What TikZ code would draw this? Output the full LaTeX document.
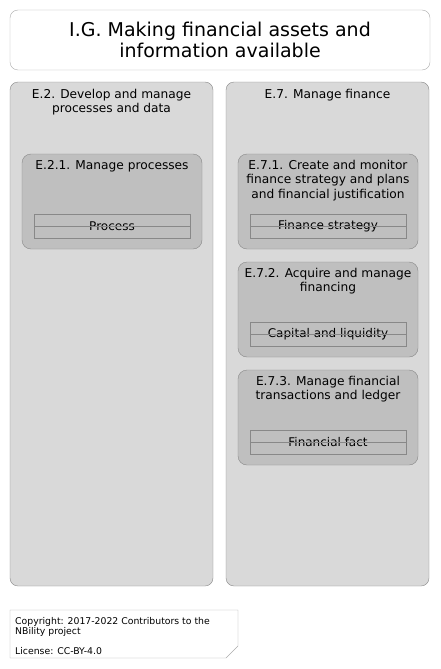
\documentclass[tikz,border=0pt]{standalone}
\usepackage{fontspec}
\setmainfont{DejaVu Sans}
\usetikzlibrary{positioning,shapes.geometric}
\definecolor{boxline}{HTML}{888888}
\definecolor{outerfill}{HTML}{D9D9D9}
\definecolor{innerfill}{HTML}{BFBFBF}
\tikzset{
  titlebox/.style={draw=boxline!70, fill=white, rounded corners=8pt, minimum width=420pt, minimum height=60pt},
  areabox/.style={draw=boxline, fill=outerfill, rounded corners=8pt, minimum width=203pt, minimum height=504pt},
  funcbox/.style={draw=boxline, fill=innerfill, rounded corners=9pt, minimum width=180pt, minimum height=95pt},
  entity/.style={draw=boxline, minimum width=156pt, minimum height=24pt, inner sep=0pt, font=\fontsize{12}{14}\selectfont},
  boxlabel/.style={align=center, inner sep=0pt, font=\fontsize{12.2}{14.2}\selectfont}
}

\begin{document}
\begin{tikzpicture}[x=1pt, y=-1pt]
    \useasboundingbox (0,0) rectangle (441,669);

    % title
    \node[titlebox]                 (title) at (220,40) {};
    \node[align=center, font=\fontsize{19}{21}\selectfont] (titlet) at (title.center) {I.G. Making financial assets and\\information available};

    % E.2
    \node[areabox]                  (e2) at (111.5,334) {};
    \node[boxlabel, below=7pt of e2.north] (e2t) {E.2. Develop and manage\\processes and data};
    \node[funcbox]                  (e21) at (112,201.5) {};
    \node[boxlabel, below=6.5pt of e21.north] (e21t) {E.2.1. Manage processes};
    \node[entity]                   (proc) at (112,226.5) {Process};
    \draw[boxline]                  (proc.west) -- (proc.east);

    % E.7
    \node[areabox]                  (e7) at (327.5,334) {};
    \node[boxlabel, below=7pt of e7.north] (e7t) {E.7. Manage finance};
    \node[funcbox]                  (e71) at (328,201.5) {};
    \node[boxlabel, below=6.5pt of e71.north] (e71t) {E.7.1. Create and monitor\\finance strategy and plans\\and financial justification};
    \node[entity]                   (strat) at (328,226.5) {Finance strategy};
    \draw[boxline]                  (strat.west) -- (strat.east);

    \node[funcbox]                  (e72) at (328,309.5) {};
    \node[boxlabel, below=6.5pt of e72.north] (e72t) {E.7.2. Acquire and manage\\financing};
    \node[entity]                   (capital) at (328,334.5) {Capital and liquidity};
    \draw[boxline]                  (capital.west) -- (capital.east);

    \node[funcbox]                  (e73) at (328,417.5) {};
    \node[boxlabel, below=6.5pt of e73.north] (e73t) {E.7.3. Manage financial\\transactions and ledger};
    \node[entity]                   (fact) at (328,442.5) {Financial fact};
    \draw[boxline]                  (fact.west) -- (fact.east);

    % footnote
    \draw[boxline!70, fill=white]   (10,610) -- (238,610) -- (238,646) -- (226,658) -- (10,658) -- cycle;
    \node[anchor=north west, align=left, inner sep=0pt, font=\fontsize{9.3}{10.5}\selectfont] (note) at (15,617)
        {Copyright: 2017-2022 Contributors to the\\NBility project\\[9pt]License: CC-BY-4.0};
\end{tikzpicture}
\end{document}
